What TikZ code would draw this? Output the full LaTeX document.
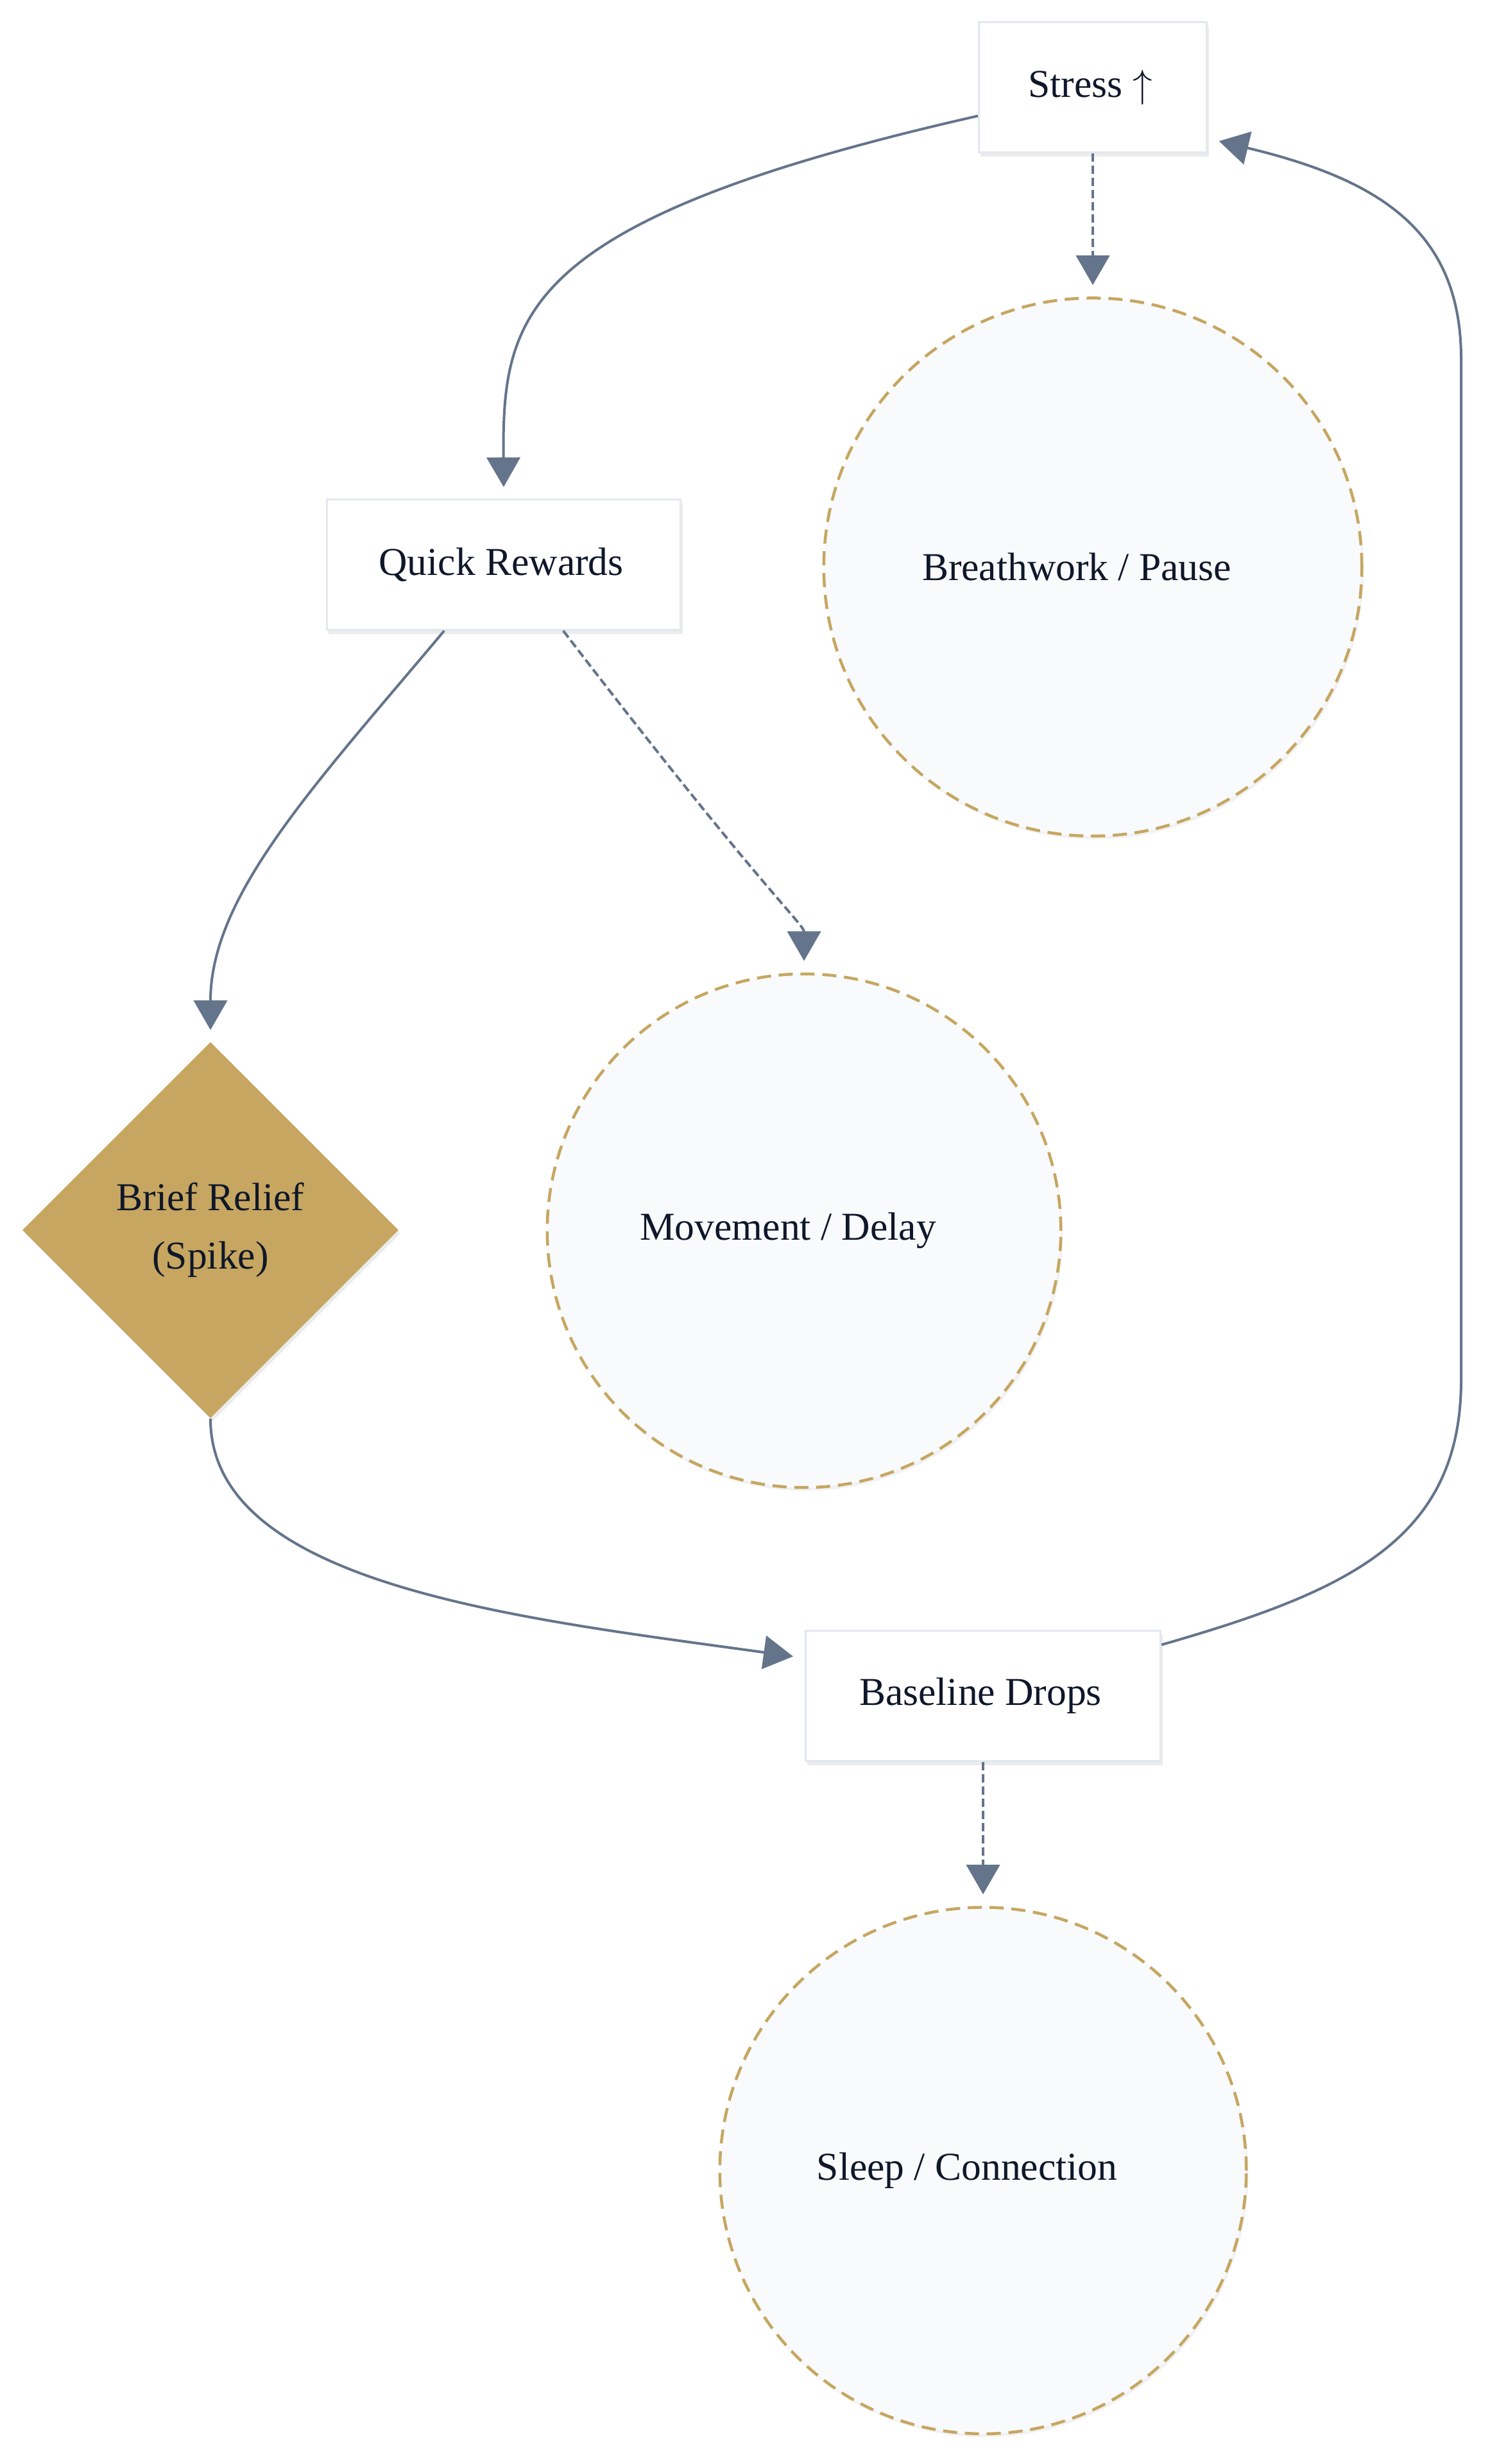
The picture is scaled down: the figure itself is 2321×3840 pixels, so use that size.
\documentclass[tikz,border=0pt]{standalone}
\usepackage{fontspec}
\setmainfont{Liberation Serif}
\usepackage{xcolor}
\usetikzlibrary{shapes.geometric,arrows.meta,positioning,shadows}
\definecolor{loopslate}{HTML}{64748B}
\definecolor{loopgold}{HTML}{C6A660}
\definecolor{loopink}{HTML}{0F172A}
\definecolor{loopedge}{HTML}{E2E8F0}
\definecolor{loopmist}{HTML}{F8FAFC}

\begin{document}
\begin{tikzpicture}[
    x=0.01cm, y=-0.01cm,
    box/.style={rectangle, draw=loopedge, fill=white, line width=0.03cm, minimum height=2.03cm, font=\fontsize{17.5}{26}\selectfont, text=loopink, execute at end node=\hspace{0.08cm}, drop shadow={shadow xshift=0.03cm, shadow yshift=-0.06cm, opacity=0.15}},
    habit/.style={circle, draw=loopgold, fill=loopmist, line width=0.045cm, dash pattern=on 0.22cm off 0.12cm, font=\fontsize{17.5}{26}\selectfont, text=loopink, execute at end node=\hspace{0.5cm}, drop shadow={shadow xshift=0.03cm, shadow yshift=-0.05cm, opacity=0.1}},
    spike/.style={diamond, aspect=1, fill=loopgold, minimum width=5.86cm, minimum height=5.86cm, inner sep=0pt, align=center, font=\fontsize{17.5}{26}\selectfont, text=loopink, drop shadow={shadow xshift=0.03cm, shadow yshift=-0.05cm, opacity=0.15}},
    arr/.style={-{Triangle[length=0.46cm, width=0.52cm]}, line width=0.04cm, draw=loopslate, shorten >=0.18cm},
    alt/.style={arr, dash pattern=on 0.13cm off 0.06cm}
]
    \useasboundingbox (0,0) rectangle (2321,3840);

    % Loop
    \node (stress) [box, minimum width=3.55cm] at (1703,136) {Stress $\uparrow$};
    \node (quick) [box, minimum width=5.51cm] at (785,880) {Quick Rewards};
    \node (relief) [spike] at (328,1917) {Brief Relief\\(Spike)};
    \node (baseline) [box, minimum width=5.53cm] at (1532,2643) {Baseline Drops};

    % Alternatives
    \node (breath) [habit, minimum size=8.38cm, below=2.23cm of stress] {Breathwork / Pause};
    \node (move) [habit, minimum size=8cm] at (1253,1918) {Movement / Delay};
    \node (sleep) [habit, minimum size=8.2cm, below=2.24cm of baseline] {Sleep / Connection};

    \draw [arr] (stress.194) .. controls (808,343) and (783,490) .. (quick.north);
    \draw [arr] (quick.228) .. controls (490,1224) and (328,1395) .. (relief.north);
    \draw [arr] (relief.south) .. controls (328,2470) and (808,2522) .. (baseline.168);
    \draw [arr] (baseline.16) .. controls (2100,2480) and (2277,2400) .. (2277,2150)
        -- (2277,560) .. controls (2277,360) and (2150,280) .. (stress.336);

    \draw [alt] (stress) -- (breath);
    \draw [alt] (quick.312) .. controls (1190,1390) and (1253,1440) .. (move.north);
    \draw [alt] (baseline) -- (sleep);
\end{tikzpicture}
\end{document}
